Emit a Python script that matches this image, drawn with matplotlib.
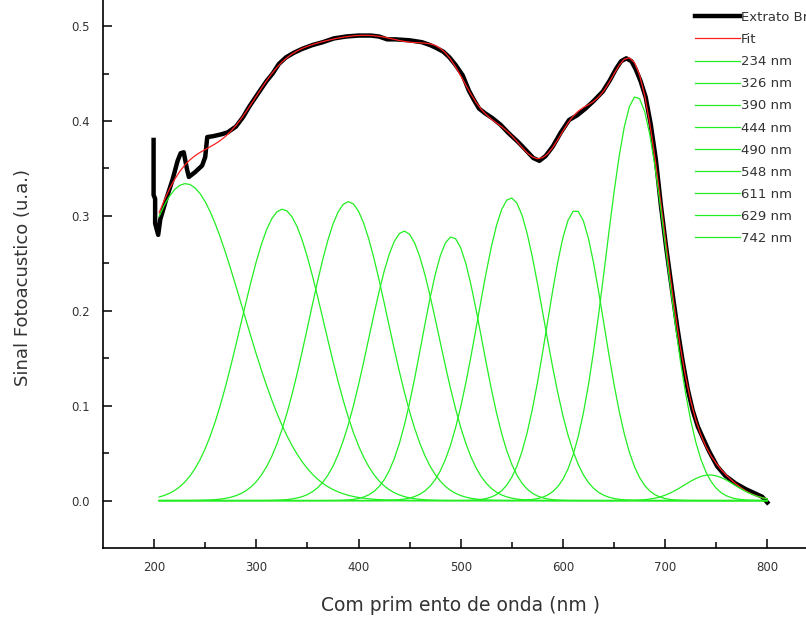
# Photoacoustic spectrum with gaussian decomposition
import numpy as np
import matplotlib.pyplot as plt

plt.rcParams['font.family'] = ['DejaVu Sans']

# measured spectrum (black curve)
wl_data = [199.5, 199.5, 201, 201, 204, 206, 212, 218, 223, 226, 229, 232, 234, 240, 247, 250,
           252, 258, 266, 272, 280, 287, 293, 303, 310, 316, 322, 329, 337, 345, 355, 365,
           376, 388, 400, 412, 420, 428, 436, 450, 462, 470, 476, 483, 489, 495, 502, 508,
           513, 518, 524, 531, 539, 547, 556, 564, 571, 577, 583, 590, 598, 606, 614, 622,
           630, 639, 646, 652, 657, 662, 667, 671, 676, 681, 686, 691, 696, 701, 707, 712,
           717, 722, 727, 732, 737, 743, 751, 759, 769, 779, 787, 795, 800]
sig_data = [0.380, 0.322, 0.318, 0.292, 0.280, 0.296, 0.318, 0.338, 0.358, 0.366, 0.367, 0.350,
            0.341, 0.346, 0.353, 0.362, 0.383, 0.384, 0.386, 0.388, 0.394, 0.404, 0.415, 0.431,
            0.442, 0.450, 0.460, 0.467, 0.472, 0.476, 0.480, 0.483, 0.487, 0.489, 0.490, 0.490,
            0.489, 0.486, 0.486, 0.485, 0.483, 0.480, 0.477, 0.473, 0.467, 0.459, 0.448, 0.432,
            0.422, 0.413, 0.408, 0.403, 0.396, 0.387, 0.378, 0.369, 0.361, 0.358, 0.363, 0.373,
            0.388, 0.401, 0.406, 0.413, 0.421, 0.431, 0.443, 0.455, 0.463, 0.466, 0.463, 0.455,
            0.442, 0.425, 0.396, 0.359, 0.310, 0.267, 0.220, 0.182, 0.148, 0.118, 0.095, 0.078,
            0.066, 0.052, 0.036, 0.026, 0.018, 0.012, 0.008, 0.004, -0.002]

# gaussian components of the fit (green curves): centre, height, sigma
peak_labels = ['234 nm', '326 nm', '390 nm', '444 nm', '490 nm', '548 nm', '611 nm', '629 nm', '742 nm']
peak_centers = [230.9, 325.6, 390.2, 444.6, 491.4, 549.0, 612.4, 671.8, 743.5]
peak_heights = [0.334, 0.307, 0.315, 0.284, 0.278, 0.319, 0.306, 0.426, 0.027]
peak_sigmas = [55.6, 40.7, 38.4, 34.3, 29.4, 32.0, 27.8, 29.6, 24.6]

wl_fit = np.arange(205, 801, 5)
components = [h * np.exp(-(wl_fit - c) ** 2 / (2 * s ** 2))
              for c, h, s in zip(peak_centers, peak_heights, peak_sigmas)]
fit_total = np.sum(components, axis=0)

fig = plt.figure(figsize=(8.06, 6.2), dpi=100)
ax = fig.add_axes([0.1278, 0.1161, 0.8876, 0.9184])

ax.plot(wl_data, sig_data, color='black', lw=3.2, label='Extrato Bruto')
ax.plot(wl_fit, fit_total, color='#ff2020', lw=0.9, label='Fit')
for comp, lab in zip(components, peak_labels):
    ax.plot(wl_fit, comp, color='#22ee22', lw=0.9, label=lab)

ax.set_xlim(150, 850)
ax.set_ylim(-0.05, 0.55)
ax.set_xticks([200, 300, 400, 500, 600, 700, 800])
ax.set_xticks(np.arange(250, 800, 100), minor=True)
ax.set_yticks([0.0, 0.1, 0.2, 0.3, 0.4, 0.5])
ax.set_yticks(np.arange(0.05, 0.55, 0.1), minor=True)
ax.yaxis.set_major_formatter(plt.FormatStrFormatter('%.1f'))

ax.tick_params(which='both', direction='in', color='black', width=1.1)
ax.tick_params(which='major', length=6.5, labelsize=8.5, labelcolor='#333333', pad=9.5)
ax.tick_params(which='minor', length=4)
for side in ['left', 'bottom']:
    ax.spines[side].set_linewidth(1.2)

ax.set_xlabel('Com prim ento de onda (nm )', fontsize=13.5, color='#333333', labelpad=16)
fig.text(23 / 806, 1 - 278 / 620, 'Sinal Fotoacustico (u.a.)', rotation=90,
         fontsize=13, color='#333333', ha='center', va='center')

leg = ax.legend(loc='upper left', bbox_to_anchor=(695 / 806, 1 - 11 / 620),
                bbox_transform=fig.transFigure, frameon=False, fontsize=9.5,
                handlelength=3.4, handletextpad=0.1, labelspacing=0.69,
                borderpad=0, borderaxespad=0)
for t in leg.get_texts():
    t.set_color('#333333')

fig.savefig('out.png', dpi=100)
